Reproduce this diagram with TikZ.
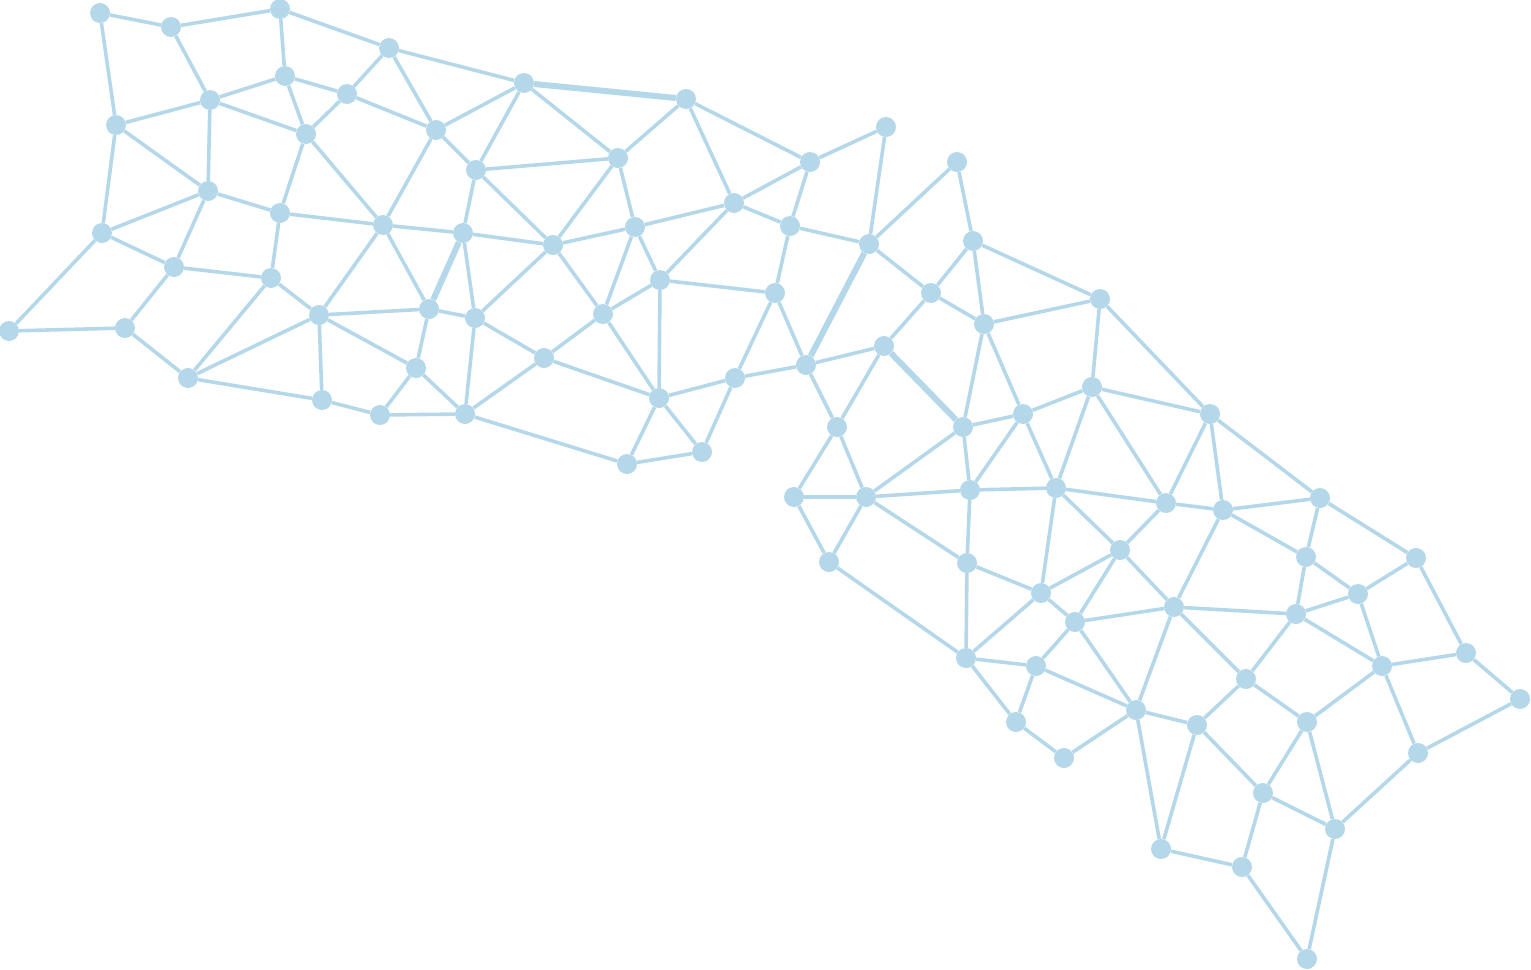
\documentclass[tikz,border=0pt]{standalone}
\usepackage{tikz}
\definecolor{netblue}{RGB}{180,216,233}

\begin{document}
\begin{tikzpicture}[
    x=1pt, y=-1pt,
    dot/.style={circle, fill=netblue, inner sep=0pt, minimum size=20pt},
    link/.style={draw=netblue, line width=3.6pt},
    heavy/.style={link, line width=6pt},
]
  \useasboundingbox (0,0) rectangle (1531,969);

  % left cluster
  \node[dot] (a1) at (100,13) {};
  \node[dot] (a2) at (171,27) {};
  \node[dot] (a3) at (280,9) {};
  \node[dot] (a4) at (389,48) {};
  \node[dot] (a5) at (285,76) {};
  \node[dot] (a6) at (210,100) {};
  \node[dot] (a7) at (347,94) {};
  \node[dot] (a8) at (116,125) {};
  \node[dot] (a9) at (306,134) {};
  \node[dot] (a10) at (436,130) {};
  \node[dot] (a11) at (524,83) {};
  \node[dot] (a12) at (686,99) {};
  \node[dot] (a13) at (476,170) {};
  \node[dot] (a14) at (618,158) {};
  \node[dot] (a15) at (208,191) {};
  \node[dot] (a16) at (280,213) {};
  \node[dot] (a17) at (383,225) {};
  \node[dot] (a18) at (463,233) {};
  \node[dot] (a19) at (553,245) {};
  \node[dot] (a20) at (635,227) {};
  \node[dot] (a21) at (734,203) {};
  \node[dot] (a22) at (810,162) {};
  \node[dot] (a23) at (886,127) {};
  \node[dot] (a24) at (790,226) {};
  \node[dot] (a25) at (102,233) {};
  \node[dot] (a26) at (174,267) {};
  \node[dot] (a27) at (271,278) {};
  \node[dot] (a28) at (660,280) {};
  \node[dot] (a29) at (775,293) {};
  \node[dot] (a30) at (9,331) {};
  \node[dot] (a31) at (125,328) {};
  \node[dot] (a32) at (319,315) {};
  \node[dot] (a33) at (429,309) {};
  \node[dot] (a34) at (475,318) {};
  \node[dot] (a35) at (603,314) {};
  \node[dot] (a36) at (188,378) {};
  \node[dot] (a37) at (416,368) {};
  \node[dot] (a38) at (544,358) {};
  \node[dot] (a39) at (322,400) {};
  \node[dot] (a40) at (380,415) {};
  \node[dot] (a41) at (465,414) {};
  \node[dot] (a42) at (659,398) {};
  \node[dot] (a43) at (735,378) {};
  \node[dot] (a44) at (806,365) {};
  \node[dot] (a45) at (627,464) {};
  \node[dot] (a46) at (702,452) {};

  % right cluster
  \node[dot] (b1) at (957,162) {};
  \node[dot] (b2) at (973,241) {};
  \node[dot] (b3) at (869,244) {};
  \node[dot] (b4) at (931,293) {};
  \node[dot] (b5) at (984,324) {};
  \node[dot] (b6) at (1100,299) {};
  \node[dot] (b7) at (884,346) {};
  \node[dot] (b8) at (837,427) {};
  \node[dot] (b9) at (963,427) {};
  \node[dot] (b10) at (1023,414) {};
  \node[dot] (b11) at (1092,387) {};
  \node[dot] (b12) at (1210,414) {};
  \node[dot] (b13) at (794,497) {};
  \node[dot] (b14) at (866,497) {};
  \node[dot] (b15) at (970,490) {};
  \node[dot] (b16) at (1056,488) {};
  \node[dot] (b17) at (1166,503) {};
  \node[dot] (b18) at (1223,510) {};
  \node[dot] (b19) at (1320,498) {};
  \node[dot] (b20) at (829,562) {};
  \node[dot] (b21) at (967,563) {};
  \node[dot] (b22) at (1120,550) {};
  \node[dot] (b23) at (1306,557) {};
  \node[dot] (b24) at (1416,558) {};
  \node[dot] (b25) at (1041,593) {};
  \node[dot] (b26) at (1075,622) {};
  \node[dot] (b27) at (1174,607) {};
  \node[dot] (b28) at (1296,614) {};
  \node[dot] (b29) at (1358,594) {};
  \node[dot] (b30) at (966,658) {};
  \node[dot] (b31) at (1036,666) {};
  \node[dot] (b32) at (1246,679) {};
  \node[dot] (b33) at (1382,666) {};
  \node[dot] (b34) at (1466,653) {};
  \node[dot] (b35) at (1520,699) {};
  \node[dot] (b36) at (1016,722) {};
  \node[dot] (b37) at (1136,710) {};
  \node[dot] (b38) at (1197,725) {};
  \node[dot] (b39) at (1307,722) {};
  \node[dot] (b40) at (1064,758) {};
  \node[dot] (b41) at (1418,753) {};
  \node[dot] (b42) at (1263,793) {};
  \node[dot] (b43) at (1335,829) {};
  \node[dot] (b44) at (1161,849) {};
  \node[dot] (b45) at (1242,867) {};
  \node[dot] (b46) at (1307,959) {};

  % links, left
  \draw[link] (a1) -- (a2)  (a1) -- (a8);
  \draw[link] (a2) -- (a3)  (a2) -- (a6);
  \draw[link] (a3) -- (a4)  (a3) -- (a5);
  \draw[link] (a4) -- (a7)  (a4) -- (a10)  (a4) -- (a11);
  \draw[link] (a5) -- (a6)  (a5) -- (a7)  (a5) -- (a9);
  \draw[link] (a6) -- (a8)  (a6) -- (a9)  (a6) -- (a15);
  \draw[link] (a7) -- (a9)  (a7) -- (a10);
  \draw[link] (a8) -- (a15)  (a8) -- (a25);
  \draw[link] (a9) -- (a16)  (a9) -- (a17);
  \draw[link] (a10) -- (a11)  (a10) -- (a13)  (a10) -- (a17);
  \draw[heavy] (a11) -- (a12);
  \draw[link] (a11) -- (a13)  (a11) -- (a14);
  \draw[link] (a12) -- (a14)  (a12) -- (a21)  (a12) -- (a22);
  \draw[link] (a13) -- (a14)  (a13) -- (a18)  (a13) -- (a19);
  \draw[link] (a14) -- (a19)  (a14) -- (a20);
  \draw[link] (a15) -- (a16)  (a15) -- (a25)  (a15) -- (a26);
  \draw[link] (a16) -- (a17)  (a16) -- (a27);
  \draw[link] (a17) -- (a18)  (a17) -- (a32)  (a17) -- (a33);
  \draw[heavy] (a18) -- (a33);
  \draw[link] (a18) -- (a19)  (a18) -- (a34);
  \draw[link] (a19) -- (a20)  (a19) -- (a34)  (a19) -- (a35);
  \draw[link] (a20) -- (a21)  (a20) -- (a28)  (a20) -- (a35);
  \draw[link] (a21) -- (a22)  (a21) -- (a24)  (a21) -- (a28);
  \draw[link] (a22) -- (a23)  (a22) -- (a24);
  \draw[link] (a24) -- (a29);
  \draw[link] (a25) -- (a26)  (a25) -- (a30);
  \draw[link] (a26) -- (a27)  (a26) -- (a31);
  \draw[link] (a27) -- (a32)  (a27) -- (a36);
  \draw[link] (a28) -- (a29)  (a28) -- (a35)  (a28) -- (a42);
  \draw[link] (a29) -- (a43)  (a29) -- (a44);
  \draw[link] (a30) -- (a31);
  \draw[link] (a31) -- (a36);
  \draw[link] (a32) -- (a36)  (a32) -- (a33)  (a32) -- (a37)  (a32) -- (a39);
  \draw[link] (a33) -- (a34)  (a33) -- (a37);
  \draw[link] (a34) -- (a38)  (a34) -- (a41);
  \draw[link] (a35) -- (a38)  (a35) -- (a42);
  \draw[link] (a36) -- (a39);
  \draw[link] (a37) -- (a40)  (a37) -- (a41);
  \draw[link] (a38) -- (a41)  (a38) -- (a42);
  \draw[link] (a39) -- (a40);
  \draw[link] (a40) -- (a41);
  \draw[link] (a41) -- (a45);
  \draw[link] (a42) -- (a43)  (a42) -- (a45)  (a42) -- (a46);
  \draw[link] (a43) -- (a44)  (a43) -- (a46);
  \draw[link] (a45) -- (a46);

  % links between the clusters
  \draw[link] (a23) -- (b3)  (a24) -- (b3);
  \draw[heavy] (a44) -- (b3);
  \draw[link] (a44) -- (b7)  (a44) -- (b8);

  % links, right
  \draw[link] (b3) -- (b1)  (b3) -- (b4);
  \draw[link] (b1) -- (b2);
  \draw[link] (b2) -- (b4)  (b2) -- (b5)  (b2) -- (b6);
  \draw[link] (b4) -- (b5)  (b4) -- (b7);
  \draw[link] (b5) -- (b6)  (b5) -- (b9)  (b5) -- (b10);
  \draw[link] (b6) -- (b11)  (b6) -- (b12);
  \draw[link] (b7) -- (b8);
  \draw[heavy] (b7) -- (b9);
  \draw[link] (b8) -- (b13)  (b8) -- (b14);
  \draw[link] (b9) -- (b10)  (b9) -- (b14)  (b9) -- (b15);
  \draw[link] (b10) -- (b11)  (b10) -- (b15)  (b10) -- (b16);
  \draw[link] (b11) -- (b12)  (b11) -- (b16)  (b11) -- (b17);
  \draw[link] (b12) -- (b17)  (b12) -- (b18)  (b12) -- (b19);
  \draw[link] (b13) -- (b14)  (b13) -- (b20);
  \draw[link] (b14) -- (b15)  (b14) -- (b20)  (b14) -- (b21);
  \draw[link] (b15) -- (b16)  (b15) -- (b21);
  \draw[link] (b16) -- (b17)  (b16) -- (b22)  (b16) -- (b25);
  \draw[link] (b17) -- (b18)  (b17) -- (b22);
  \draw[link] (b18) -- (b19)  (b18) -- (b23)  (b18) -- (b27);
  \draw[link] (b19) -- (b23)  (b19) -- (b24);
  \draw[link] (b20) -- (b30);
  \draw[link] (b21) -- (b25)  (b21) -- (b30);
  \draw[link] (b22) -- (b25)  (b22) -- (b26)  (b22) -- (b27);
  \draw[link] (b23) -- (b28)  (b23) -- (b29);
  \draw[link] (b24) -- (b29)  (b24) -- (b34);
  \draw[link] (b25) -- (b26)  (b25) -- (b30);
  \draw[link] (b26) -- (b27)  (b26) -- (b31)  (b26) -- (b37);
  \draw[link] (b27) -- (b28)  (b27) -- (b32)  (b27) -- (b37);
  \draw[link] (b28) -- (b29)  (b28) -- (b32)  (b28) -- (b33);
  \draw[link] (b29) -- (b33);
  \draw[link] (b30) -- (b31)  (b30) -- (b36);
  \draw[link] (b31) -- (b36)  (b31) -- (b37);
  \draw[link] (b32) -- (b38)  (b32) -- (b39);
  \draw[link] (b33) -- (b34)  (b33) -- (b39)  (b33) -- (b41);
  \draw[link] (b34) -- (b35);
  \draw[link] (b35) -- (b41);
  \draw[link] (b36) -- (b40);
  \draw[link] (b37) -- (b38)  (b37) -- (b40)  (b37) -- (b44);
  \draw[link] (b38) -- (b42)  (b38) -- (b44);
  \draw[link] (b39) -- (b42)  (b39) -- (b43);
  \draw[link] (b41) -- (b43);
  \draw[link] (b42) -- (b43)  (b42) -- (b45);
  \draw[link] (b43) -- (b46);
  \draw[link] (b44) -- (b45);
  \draw[link] (b45) -- (b46);
\end{tikzpicture}
\end{document}
